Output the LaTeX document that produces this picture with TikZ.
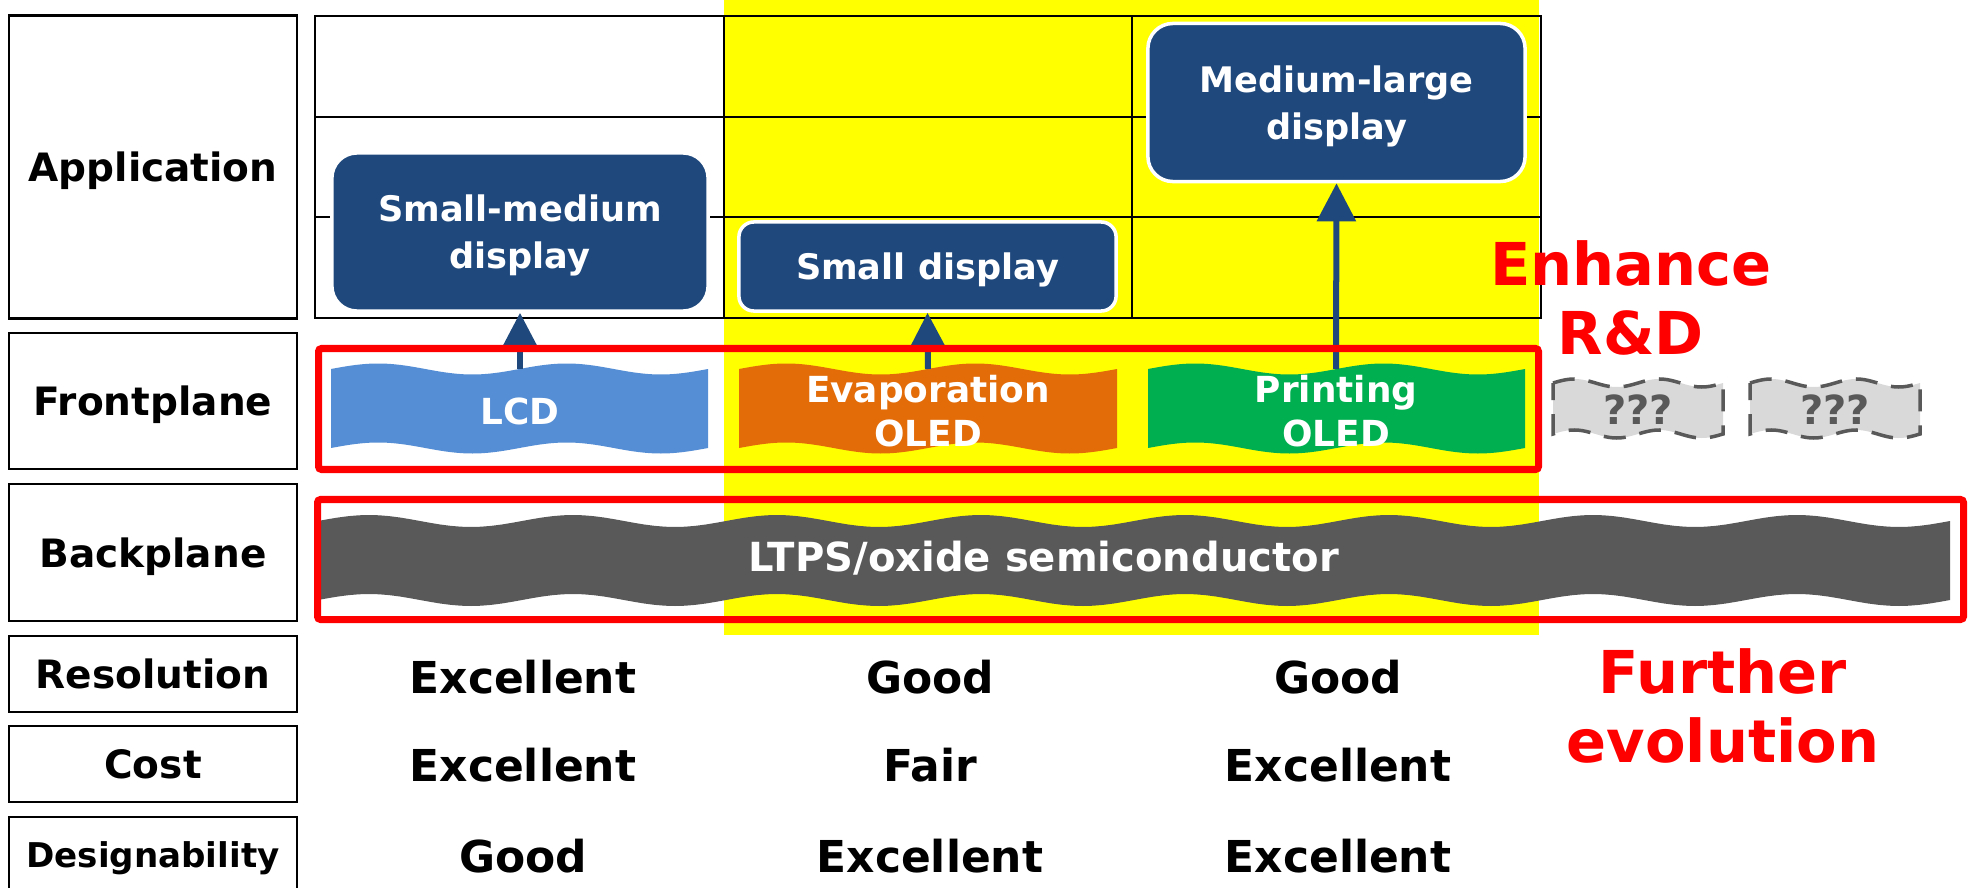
\documentclass[tikz,border=0pt]{standalone}
\usepackage{fontspec}
\setmainfont{DejaVu Sans}
\usepackage{tikz}
\usetikzlibrary{positioning}
\usetikzlibrary{arrows.meta}

\definecolor{dkblue}{RGB}{31,73,125}
\definecolor{lcdblue}{RGB}{85,142,213}
\definecolor{evorange}{RGB}{227,108,9}
\definecolor{prgreen}{RGB}{0,176,80}
\definecolor{bpgray}{RGB}{89,89,89}
\definecolor{qgray}{RGB}{217,217,217}
\definecolor{hlyellow}{RGB}{255,255,0}

% band with wavy top and bottom edges: [opts]{x0}{x1}{top}{bottom}{amp}{periods}
\newcommand{\wavefill}[7][]{%
\path[#1] plot[domain=#2:#3, samples=161] (\x,{#4-#6*sin(360*#7*((\x-#2)/(#3-#2)))})
  -- plot[domain=#3:#2, samples=161] (\x,{#5-#6*sin(360*#7*((\x-#2)/(#3-#2)))}) -- cycle;}

\tikzset{
rowlbl/.style={draw, line width=0.7pt, minimum width=2.88cm, inner sep=0pt, text depth=0pt, font=\fontsize{11.1}{13}\selectfont\bfseries},
appbox/.style={fill=dkblue, draw=white, line width=1pt, rounded corners=0.25cm, text=white, align=center, inner sep=0pt, text depth=0pt, font=\fontsize{10}{13.3}\selectfont\bfseries},
planetxt/.style={text=white, align=center, font=\fontsize{10.2}{12.4}\selectfont\bfseries},
grade/.style={font=\fontsize{12.5}{15}\selectfont\bfseries},
redtxt/.style={text=red, align=center, font=\fontsize{16.8}{19.4}\selectfont\bfseries},
redframe/.style={draw=red, line width=0.07cm, rounded corners=0.03cm},
grid/.style={line width=0.6pt},
uparrow/.style={draw=dkblue, line width=0.06cm, -{Triangle[width=0.38cm,length=0.38cm]}},
qwave/.style={fill=qgray, draw=bpgray, line width=0.035cm, dash pattern=on 0.22cm off 0.14cm}
}

\begin{document}
\begin{tikzpicture}[x=0.01cm, y=-0.01cm]
\useasboundingbox[fill=white] (0,0) rectangle (1972,888);
\fill[hlyellow] (723.7,0) rectangle (1539,635);
\draw[grid] (315,15.7) rectangle (1541,318.3);
\foreach \y in {116.7,217.3} \draw[grid] (315,\y) -- (1541,\y);
\foreach \x in {723.7,1131.7} \draw[grid] (\x,15.7) -- (\x,318.3);
\foreach \n/\t/\y/\h in {app/Application/167/3.03, front/Frontplane/401/1.36, back/Backplane/552.5/1.37, res/Resolution/674/0.76, cost/Cost/764/0.76}
  \node[rowlbl, minimum height=\h cm] (\n) at (153,\y) {\t};
\node[rowlbl, minimum height=0.76cm, font=\fontsize{9.7}{12}\selectfont\bfseries] (des) at (153,855) {Designability};

\node[appbox, minimum width=3.76cm, minimum height=1.58cm] (smd) at (520,232) {Small-medium\\display};
\node[appbox, minimum width=3.77cm, minimum height=0.89cm, rounded corners=0.15cm] (sd) at (927.5,266.5) {Small display};
\node[appbox, minimum width=3.77cm, minimum height=1.58cm] (mld) at (1336.5,102.5) {Medium-large\\display};

\wavefill[fill=lcdblue]{331}{708}{369}{448}{5.5}{2}
\wavefill[fill=evorange]{739}{1117}{369}{448}{5.5}{2}
\wavefill[fill=prgreen]{1148}{1525}{369}{448}{5.5}{2}
\node[planetxt] (lcd) at (520,411) {LCD};
\node[planetxt] (evap) at (928,411) {Evaporation\\OLED};
\node[planetxt] (print) at (1336,411) {Printing\\OLED};
\coordinate (lcdtop) at (520,369);
\coordinate (evaptop) at (928,369);
\coordinate (printtop) at (1336,369);

\wavefill[qwave]{1553}{1723}{383}{434}{4}{2}
\wavefill[qwave]{1750}{1920}{383}{434}{4}{2}
\node[text=bpgray, font=\fontsize{11.4}{13}\selectfont\bfseries] (q1) at (1638,410) {???};
\node[text=bpgray, font=\fontsize{11.4}{13}\selectfont\bfseries] (q2) at (1835,410) {???};

\wavefill[fill=bpgray]{318}{1950}{521}{600}{6}{8}
\node[planetxt, font=\fontsize{11.4}{13}\selectfont\bfseries] (ltps) at (1044,558) {LTPS/oxide semiconductor};

\draw[uparrow] (lcdtop) -- (smd.south);
\draw[uparrow] (evaptop) -- (sd.south);
\draw[uparrow] (printtop) -- (mld.south);

\draw[redframe] (318.5,348.5) rectangle (1538.5,469.5);
\draw[redframe] (317.5,499.5) rectangle (1963.5,619.5);

\foreach \y/\a/\b/\c in {677/Excellent/Good/Good, 765/Excellent/Fair/Excellent, 856/Good/Excellent/Excellent} {
  \node[grade] (g\y-1) at (523,\y) {\a};
  \node[grade] (g\y-2) at (930,\y) {\b};
  \node[grade] (g\y-3) at (1338,\y) {\c};
}

\node[redtxt] (enh) at (1631,298) {Enhance\\R\&D};
\node[redtxt] (evo) at (1723,706) {Further\\evolution};
\end{tikzpicture}
\end{document}
